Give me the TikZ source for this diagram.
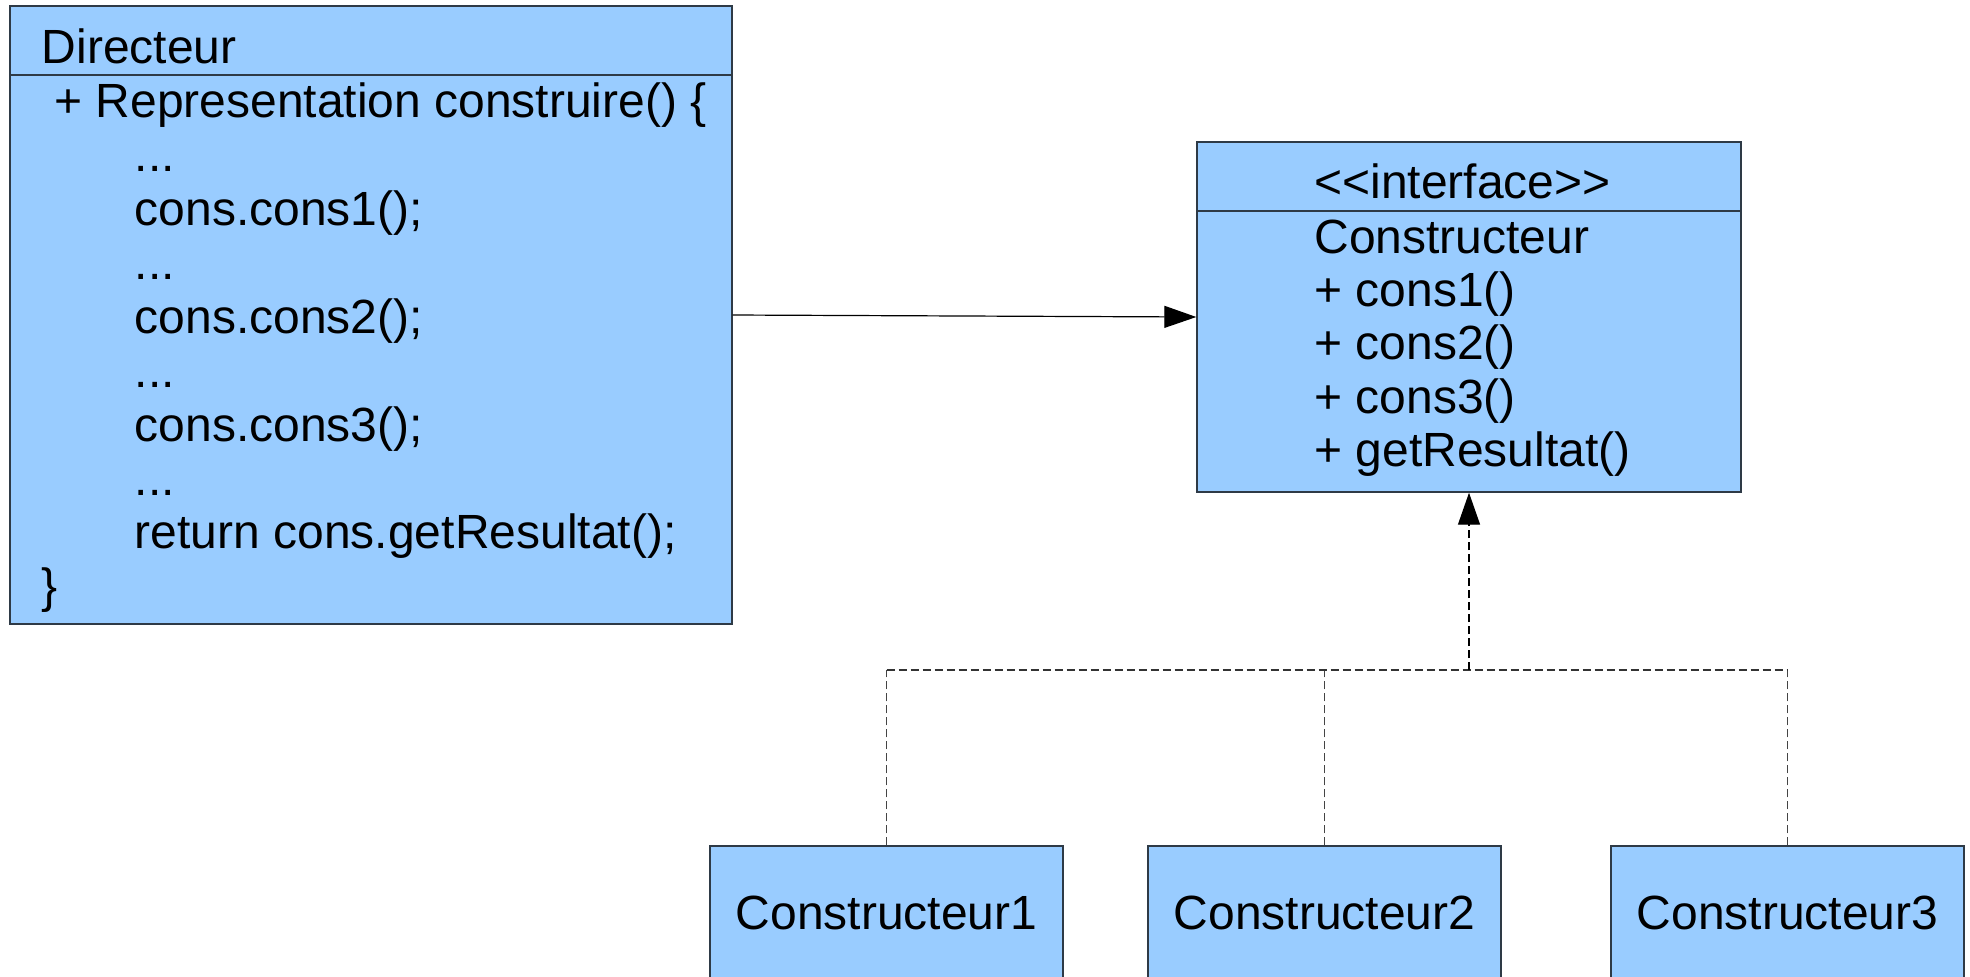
\documentclass[tikz,border=0pt]{standalone}
\usepackage{fontspec}
\setmainfont{Liberation Sans}
\usetikzlibrary{arrows.meta}
\definecolor{boxfill}{HTML}{99CCFF}
\definecolor{boxline}{HTML}{2E3A46}
\definecolor{dashgray}{HTML}{444444}
\definecolor{busgray}{HTML}{333333}
\tikzset{
  umlbox/.style={draw=boxline, line width=0.7pt, fill=boxfill, rectangle, inner sep=0pt},
  txt/.style={anchor=base west, inner sep=0pt, font=\fontsize{24}{28}\selectfont},
  ctxt/.style={font=\fontsize{24}{28}\selectfont},
  assoc/.style={line width=0.6pt, -{Triangle[length=16pt,width=11pt]}},
  realiz/.style={line width=0.7pt, black, dash pattern=on 4pt off 2pt, -{Triangle[length=16pt,width=11pt]}},
  bus/.style={line width=0.55pt, busgray, dash pattern=on 4pt off 2pt},
  tree/.style={line width=0.55pt, dashgray, dash pattern=on 4pt off 2pt}
}
\begin{document}
\begin{tikzpicture}[x=0.5pt,y=-0.5pt]
\clip (0,0) rectangle (1970,976);
\fill[white] (0,0) rectangle (1970,976);
% Directeur
\node[umlbox, minimum width=361pt, minimum height=309pt] (dir) at (371,315) {};
\draw[boxline, line width=0.6pt] (dir.west |- 0,75) -- (dir.east |- 0,75);
\node[txt] (d0) at (41.5,63.5) {Directeur};
\node[txt] (d1) at (54,117) {+ Representation construire() \{};
\node[txt] (d2) at (134.5,171) {...};
\node[txt] (d3) at (134.5,225) {cons.cons1();};
\node[txt] (d4) at (134.5,279) {...};
\node[txt] (d5) at (134.5,333) {cons.cons2();};
\node[txt] (d6) at (134.5,387) {...};
\node[txt] (d7) at (134.5,441) {cons.cons3();};
\node[txt] (d8) at (134.5,495) {...};
\node[txt] (d9) at (134.5,548) {return cons.getResultat();};
\node[txt] (d10) at (41.5,602) {\}};
% Interface
\node[umlbox, minimum width=272pt, minimum height=175pt] (iface) at (1469,317) {};
\draw[boxline, line width=0.6pt] (iface.west |- 0,211) -- (iface.east |- 0,211);
\node[txt] (i0) at (1314,198) {<{}<interface>{}>};
\node[txt] (i1) at (1314,253) {Constructeur};
\node[txt] (i2) at (1314,306) {+ cons1()};
\node[txt] (i3) at (1314,359.5) {+ cons2()};
\node[txt] (i4) at (1314,413) {+ cons3()};
\node[txt] (i5) at (1314,466) {+ getResultat()};
% Implementations
\node[umlbox, ctxt, minimum width=176.5pt, minimum height=67pt] (c1) at (886.5,913) {Constructeur1};
\node[umlbox, ctxt, minimum width=176.5pt, minimum height=67pt] (c2) at (1324.5,913) {Constructeur2};
\node[umlbox, ctxt, minimum width=176.5pt, minimum height=67pt] (c3) at (1787.5,913) {Constructeur3};
% Connectors
\draw[assoc] (dir.east) -- (iface.west);
\coordinate (bus) at (0,670);
\draw[tree] (c1.north) -- (c1.north |- bus);
\draw[tree] (c2.north) -- (c2.north |- bus);
\draw[tree] (c3.north) -- (c3.north |- bus);
\draw[bus] (c1.north |- bus) -- (c3.north |- bus);
\draw[realiz] (iface.south |- bus) -- (iface.south);
\end{tikzpicture}
\end{document}
